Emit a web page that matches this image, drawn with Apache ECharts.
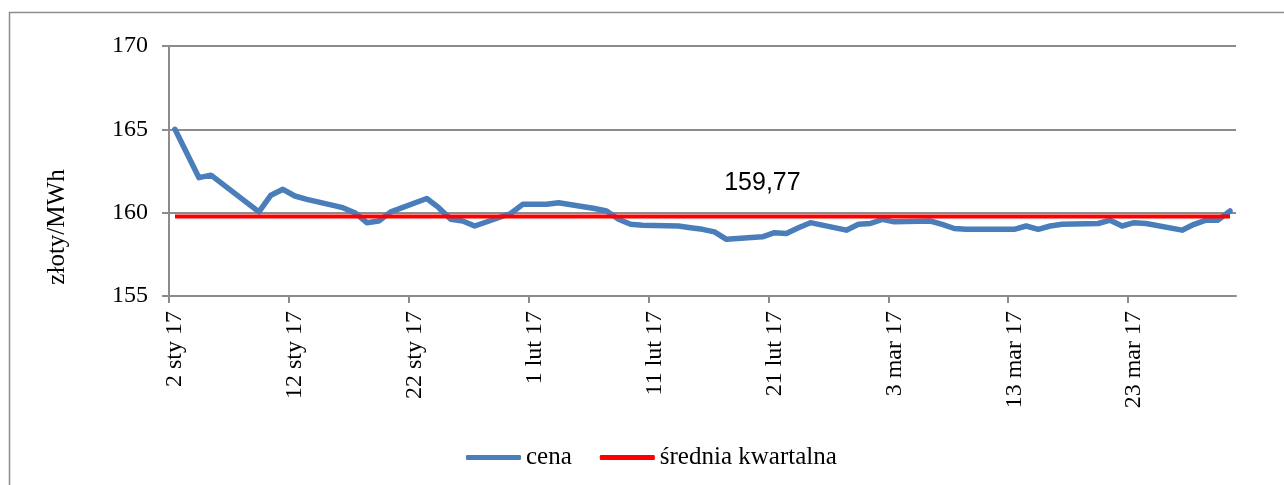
<!DOCTYPE html>
<html>
<head>
<meta charset="utf-8">
<script src="https://cdn.jsdelivr.net/npm/echarts@6/dist/echarts.min.js"></script>
<style>
    html, body { margin: 0; padding: 0; background: #fff; }
    #chart { width: 1284px; height: 485px; }
</style>
</head>
<body>
<div id="chart"></div>
<script>
// notowania (dni sesyjne I kwartału 2017)
var dates = [
    '2017-01-02', '2017-01-04', '2017-01-05', '2017-01-09', '2017-01-10', '2017-01-11', '2017-01-12', '2017-01-13',
    '2017-01-16', '2017-01-17', '2017-01-18', '2017-01-19', '2017-01-20', '2017-01-23', '2017-01-24', '2017-01-25',
    '2017-01-26', '2017-01-27', '2017-01-30', '2017-01-31', '2017-02-01', '2017-02-02', '2017-02-03', '2017-02-06',
    '2017-02-07', '2017-02-08', '2017-02-09', '2017-02-10', '2017-02-13', '2017-02-14', '2017-02-15', '2017-02-16',
    '2017-02-17', '2017-02-20', '2017-02-21', '2017-02-22', '2017-02-23', '2017-02-24', '2017-02-27', '2017-02-28',
    '2017-03-01', '2017-03-02', '2017-03-03', '2017-03-06', '2017-03-07', '2017-03-08', '2017-03-09', '2017-03-10',
    '2017-03-13', '2017-03-14', '2017-03-15', '2017-03-16', '2017-03-17', '2017-03-20', '2017-03-21', '2017-03-22',
    '2017-03-23', '2017-03-24', '2017-03-27', '2017-03-28', '2017-03-29', '2017-03-30', '2017-03-31'
];
var prices = [
    165.0, 162.1, 162.25, 160.05, 161.05, 161.4, 161.0, 160.8,
    160.3, 160.0, 159.4, 159.5, 160.05, 160.85, 160.3, 159.6,
    159.5, 159.2, 159.95, 160.5, 160.5, 160.5, 160.6, 160.25,
    160.1, 159.6, 159.3, 159.25, 159.2, 159.1, 159.0, 158.85,
    158.4, 158.55, 158.8, 158.75, 159.1, 159.4, 158.95, 159.3,
    159.35, 159.6, 159.45, 159.5, 159.3, 159.05, 159.0, 159.0,
    159.0, 159.2, 159.0, 159.2, 159.3, 159.35, 159.55, 159.2,
    159.4, 159.35, 158.95, 159.3, 159.55, 159.55, 160.1
];
var average = 159.77;
var averageLabelDate = '2017-02-20';
var tickLabels = ['2 sty 17', '12 sty 17', '22 sty 17', '1 lut 17', '11 lut 17', '21 lut 17', '3 mar 17', '13 mar 17', '23 mar 17'];
var yTicks = [155, 160, 165, 170];

var START = Date.UTC(2017, 0, 2);
var DAY = 86400000;
var GRAY = '#8c8c8c';
var SERIF = '"Liberation Serif", "DejaVu Serif", serif';

// pozycja punktu = środek dnia (jak w Excelu)
function dayPos(s) {
    var p = s.split('-');
    return (Date.UTC(+p[0], +p[1] - 1, +p[2]) - START) / DAY + 0.5;
}

var priceData = dates.map(function (d, i) {
    return [dayPos(d), prices[i]];
});
var avgData = dates.map(function (d) {
    return [dayPos(d), average];
});

var tickDays = tickLabels.map(function (_, i) { return i * 10; });
var labelDays = tickLabels.map(function (_, i) { return i * 10 + 0.5; });

var chart = echarts.init(document.getElementById('chart'));
chart.setOption({
    animation: false,
    backgroundColor: '#fff',
    grid: { left: 169, right: 48, top: 46, bottom: 189 },
    graphic: [
        {
            type: 'rect',
            shape: { x: 9.5, y: 12.5, width: 1300, height: 500 },
            style: { fill: 'none', stroke: GRAY, lineWidth: 1.5 },
            silent: true
        },
        {
            type: 'text',
            x: 57,
            y: 227,
            rotation: Math.PI / 2,
            style: {
                text: 'złoty/MWh',
                font: '25px ' + SERIF,
                fill: '#000',
                align: 'center',
                verticalAlign: 'middle'
            }
        }
    ],
    legend: {
        left: 461,
        top: 440,
        itemWidth: 55,
        itemHeight: 5,
        itemGap: 28,
        textStyle: { fontFamily: SERIF, fontSize: 25, color: '#000' },
        data: [
            { name: 'cena', icon: 'roundRect' },
            { name: 'średnia kwartalna', icon: 'roundRect' }
        ]
    },
    xAxis: {
        type: 'value',
        min: 0,
        max: 89,
        interval: 10,
        splitLine: { show: false },
        axisLine: { lineStyle: { color: GRAY, width: 2 } },
        axisTick: {
            customValues: tickDays,
            length: 7,
            lineStyle: { color: GRAY, width: 2 }
        },
        axisLabel: {
            customValues: labelDays,
            rotate: 90,
            margin: 15,
            fontFamily: SERIF,
            fontSize: 24,
            color: '#000',
            formatter: function (v) {
                return tickLabels[Math.round((v - 0.5) / 10)];
            }
        }
    },
    yAxis: {
        type: 'value',
        min: yTicks[0],
        max: yTicks[yTicks.length - 1],
        interval: 5,
        axisLine: { show: true, lineStyle: { color: GRAY, width: 2 } },
        axisTick: { show: true, length: 7, lineStyle: { color: GRAY, width: 2 } },
        splitLine: { lineStyle: { color: GRAY, width: 2 } },
        axisLabel: {
            margin: 21,
            fontFamily: SERIF,
            fontSize: 24,
            color: '#000'
        }
    },
    series: [
        {
            name: 'cena',
            type: 'line',
            data: priceData,
            symbol: 'none',
            color: '#4a7ebb',
            lineStyle: { width: 5.5, color: '#4a7ebb', cap: 'round', join: 'round' }
        },
        {
            name: 'średnia kwartalna',
            type: 'line',
            data: avgData,
            symbol: 'none',
            color: '#ff0000',
            lineStyle: { width: 4, color: '#ff0000' },
            markPoint: {
                symbol: 'circle',
                symbolSize: 1,
                itemStyle: { color: '#ff0000' },
                label: {
                    show: true,
                    position: 'top',
                    distance: 20,
                    fontFamily: '"Liberation Sans", Arial, sans-serif',
                    fontSize: 25,
                    color: '#000',
                    formatter: function () { return average.toFixed(2).replace('.', ','); }
                },
                data: [{ coord: [dayPos(averageLabelDate), average], value: average }]
            }
        }
    ]
});
</script>
</body>
</html>
